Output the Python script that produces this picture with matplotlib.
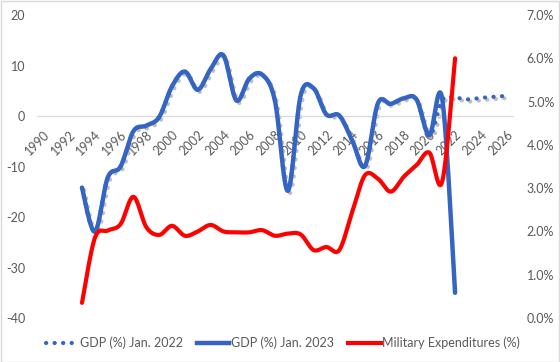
import numpy as np
import matplotlib
matplotlib.use('Agg')
import matplotlib.pyplot as plt
import matplotlib.patheffects as pe
from matplotlib.patches import Rectangle
from matplotlib.lines import Line2D

# ---- data ----
years_all = list(range(1990, 2027))
tick_years = list(range(1990, 2027, 2))

gdp23_years = list(range(1993, 2023))
gdp23 = [-14.2, -22.9, -12.2, -10.0, -3.0, -1.9, -0.2, 5.9, 8.8, 5.2,
         9.3, 12.0, 3.1, 7.4, 8.2, 3.0, -14.8, 4.1, 5.5, 0.3,
         0.1, -4.8, -9.9, 2.5, 2.4, 3.5, 3.3, -3.8, 3.4, -35.0]

gdp22_years = list(range(1993, 2027))
gdp22 = [-14.2, -22.9, -12.2, -10.0, -3.0, -1.9, -0.2, 5.9, 8.8, 5.2,
         9.3, 12.0, 3.1, 7.4, 8.2, 3.0, -14.8, 4.1, 5.5, 0.3,
         0.1, -4.8, -9.9, 2.5, 2.4, 3.5, 3.3, -4.0, 3.2, 3.6,
         3.3, 3.6, 3.8, 4.0]

mil_years = list(range(1993, 2023))
mil_exp = [0.35, 1.85, 2.02, 2.17, 2.80, 2.10, 1.92, 2.13, 1.90, 2.00,
           2.15, 2.00, 1.98, 1.98, 2.03, 1.90, 1.95, 1.93, 1.57, 1.64,
           1.57, 2.45, 3.30, 3.22, 2.92, 3.26, 3.53, 3.82, 3.15, 6.00]

left_ticks = [-40, -30, -20, -10, 0, 10, 20]
right_ticks = [0, 1, 2, 3, 4, 5, 6, 7]
right_labels = ['0.0%', '1.0%', '2.0%', '3.0%', '4.0%', '5.0%', '6.0%', '7.0%']

series_names = ['GDP (%) Jan. 2022', 'GDP (%) Jan. 2023', 'Military Expenditures (%)']

BLUE = '#3565C2'
RED = '#FF0000'
GREY_TXT = '#595959'
DOTS = (0, (0.05, 2.0))


def smooth(x, y, n=40):
    x = np.asarray(x, float)
    y = np.asarray(y, float)
    xp = np.concatenate([[x[0]], x, [x[-1]]])
    yp = np.concatenate([[y[0]], y, [y[-1]]])
    t = np.linspace(0, 1, n)
    ox, oy = [], []
    for i in range(len(x) - 1):
        p0 = np.array([xp[i], yp[i]])
        p1 = np.array([xp[i + 1], yp[i + 1]])
        p2 = np.array([xp[i + 2], yp[i + 2]])
        p3 = np.array([xp[i + 3], yp[i + 3]])
        c1 = p1 + (p2 - p0) / 6.0
        c2 = p2 - (p3 - p1) / 6.0
        tt = t[:, None]
        pts = ((1 - tt) ** 3) * p1 + 3 * ((1 - tt) ** 2) * tt * c1 + \
            3 * (1 - tt) * tt ** 2 * c2 + tt ** 3 * p2
        if i > 0:
            pts = pts[1:]
        ox.extend(pts[:, 0])
        oy.extend(pts[:, 1])
    return np.array(ox), np.array(oy)


plt.rcParams['font.family'] = ['Lato', 'DejaVu Sans']
FS = 9

fig = plt.figure(figsize=(5.6, 3.62), dpi=100)
fig.patch.set_facecolor('white')
fig.patches.append(Rectangle((0.001, 0.001), 0.997, 0.996, transform=fig.transFigure,
                             fill=False, edgecolor='#D9D9D9', lw=1.0))

ax = fig.add_axes([0.066, 0.1215, 0.85, 0.837])
ax2 = ax.twinx()

# dotted forecast series with shadow
sx, sy = smooth(gdp22_years, gdp22)
ax.plot(sx, sy, color=BLUE, lw=3, linestyle=DOTS, dash_capstyle='round',
        path_effects=[pe.SimpleLineShadow(offset=(1.6, -1.6), shadow_color='#8c8c8c', alpha=0.55),
                      pe.Normal()], zorder=2)

sx, sy = smooth(gdp23_years, gdp23)
ax.plot(sx, sy, color=BLUE, lw=3.2, solid_capstyle='round', zorder=3)

mx, my = smooth(mil_years, mil_exp)
ax2.plot(mx, my, color=RED, lw=3, solid_capstyle='round', zorder=4)

ax.set_xlim(1989.5, 2026.5)
ax.set_ylim(-40, 20)
ax2.set_ylim(0, 7)

ax.set_yticks(left_ticks)
ax.set_yticklabels([str(v) for v in left_ticks])
ax2.set_yticks(right_ticks)
ax2.set_yticklabels(right_labels)

ax.set_xticks(tick_years)
ax.set_xticklabels([str(y) for y in tick_years])

for a in (ax, ax2):
    for s in ('top', 'right', 'left', 'bottom'):
        a.spines[s].set_visible(False)
ax.spines['bottom'].set_visible(True)
ax.spines['bottom'].set_position(('data', 0))
ax.spines['bottom'].set_color('#D9D9D9')
ax.spines['bottom'].set_linewidth(0.9)

ax.tick_params(axis='x', length=0, pad=9.0, labelsize=FS, labelcolor=GREY_TXT)
ax.tick_params(axis='y', length=0, pad=8.5, labelsize=FS, labelcolor=GREY_TXT)
ax2.tick_params(axis='y', length=0, pad=10, labelsize=FS, labelcolor=GREY_TXT)
ax2.tick_params(axis='x', length=0, labelbottom=False, labeltop=False)

for lab in ax.get_xticklabels():
    lab.set_rotation(45)
    lab.set_ha('right')
    lab.set_va('top')
    lab.set_rotation_mode('anchor')

ax2.patch.set_visible(False)

handles = [
    Line2D([], [], color=BLUE, lw=3, linestyle=DOTS, dash_capstyle='round'),
    Line2D([], [], color=BLUE, lw=3.2),
    Line2D([], [], color=RED, lw=3),
]
fig.legend(handles, series_names, loc='center', bbox_to_anchor=(0.505, 0.052), ncol=3,
           frameon=False, fontsize=FS, labelcolor=GREY_TXT, handlelength=2.6,
           handletextpad=0.1, columnspacing=1.15)

fig.savefig('out.png', dpi=100)
